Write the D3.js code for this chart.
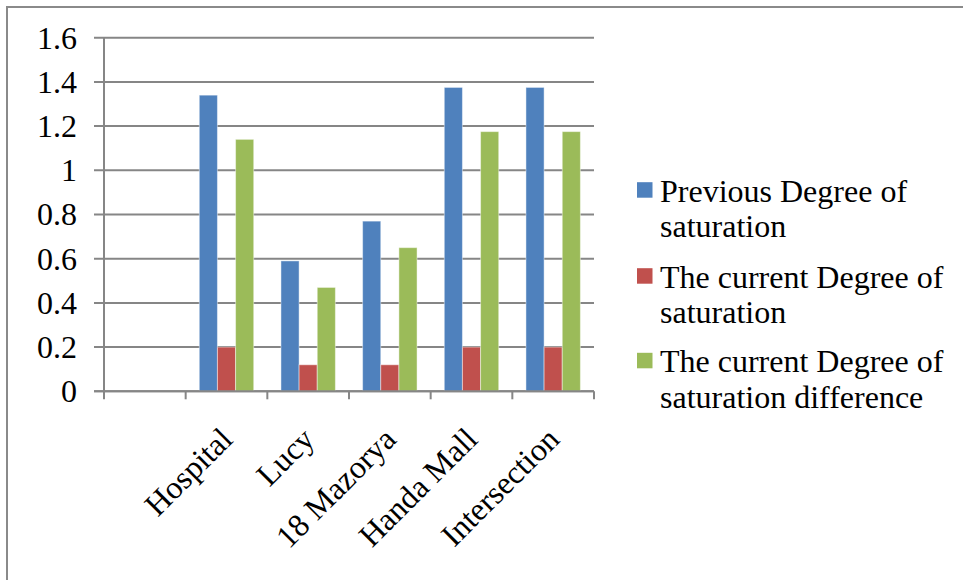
<!DOCTYPE html>
<html>
<head>
<meta charset="utf-8">
<script src="https://cdn.jsdelivr.net/npm/d3@7"></script>
<style>
  html, body { margin: 0; padding: 0; background: #fff; }
  svg { display: block; }
  text { font-family: "Liberation Serif", "Times New Roman", serif; }
</style>
</head>
<body>
<svg id="chart" width="963" height="580"></svg>
<script>
// Sites (the first slot is an empty category)
const categories = ["", "Hospital", "Lucy", "18 Mazorya", "Handa Mall", "Intersection"];
const seriesNames = [
  ["Previous Degree of", "saturation"],
  ["The current Degree of", "saturation"],
  ["The current Degree of", "saturation difference"]
];
const previousDegree   = [null, 1.34, 0.59, 0.77, 1.375, 1.375];
const currentDegree    = [null, 0.20, 0.12, 0.12, 0.20, 0.20];
const differenceDegree = [null, 1.14, 0.47, 0.65, 1.175, 1.175];
const yTicks = [0, 0.2, 0.4, 0.6, 0.8, 1, 1.2, 1.4, 1.6];
const colors = ["#4F81BD", "#C0504D", "#9BBB59"];

const series = [previousDegree, currentDegree, differenceDegree];
const FONT = 32;

const svg = d3.select("#chart");
const plot = { left: 104, right: 594, top: 37.7, bottom: 391.3 };

// Outer chart frame
svg.append("rect")
  .attr("x", 7).attr("y", 7)
  .attr("width", 1000).attr("height", 1000)
  .attr("fill", "none").attr("stroke", "#8a8a8a").attr("stroke-width", 2);

const x = d3.scaleBand().domain(categories.map((c, i) => i))
  .range([plot.left, plot.right]).paddingInner(0).paddingOuter(0);
const y = d3.scaleLinear().domain([0, 1.6]).range([plot.bottom, plot.top]);
const barW = x.bandwidth() / 4.5;
const inner = d3.scaleBand().domain([0, 1, 2]).range([0, barW * 3]);

// Gridlines with left tick marks
svg.append("g").selectAll("line").data(yTicks).join("line")
  .attr("x1", plot.left - 10).attr("x2", plot.right)
  .attr("y1", d => y(d)).attr("y2", d => y(d))
  .attr("stroke", "#868686").attr("stroke-width", 2);

// Y tick labels
svg.append("g").selectAll("text").data(yTicks).join("text")
  .attr("x", plot.left - 27).attr("y", d => y(d))
  .attr("dy", "0.34em")
  .attr("text-anchor", "end")
  .attr("font-size", FONT).attr("fill", "#000")
  .text(d => d3.format("")(d));

// Bars
const groups = svg.append("g").selectAll("g").data(series).join("g")
  .attr("fill", (d, i) => colors[i]);
groups.each(function(vals, si) {
  d3.select(this).selectAll("rect")
    .data(vals.map((v, ci) => ({ v, ci })).filter(d => d.v != null))
    .join("rect")
    .attr("x", d => x(d.ci) + (x.bandwidth() - barW * 3) / 2 + inner(si))
    .attr("width", barW)
    .attr("y", d => y(d.v))
    .attr("height", d => y(0) - y(d.v))
    .attr("stroke", "rgba(255,255,255,0.45)").attr("stroke-width", 1);
});

// Y axis line
svg.append("line")
  .attr("x1", plot.left).attr("x2", plot.left)
  .attr("y1", plot.top).attr("y2", plot.bottom)
  .attr("stroke", "#868686").attr("stroke-width", 2);

// X axis line and category ticks
svg.append("line")
  .attr("x1", plot.left - 10).attr("x2", plot.right)
  .attr("y1", plot.bottom).attr("y2", plot.bottom)
  .attr("stroke", "#868686").attr("stroke-width", 2);
const tickPos = categories.map((c, i) => x(i)).concat([plot.right]);
svg.append("g").selectAll("line").data(tickPos).join("line")
  .attr("x1", d => d).attr("x2", d => d)
  .attr("y1", plot.bottom).attr("y2", plot.bottom + 8)
  .attr("stroke", "#868686").attr("stroke-width", 2);

// Rotated category labels
svg.append("g").selectAll("text")
  .data(categories.map((c, i) => ({ c, i })).filter(d => d.c))
  .join("text")
  .attr("transform", d => `translate(${x(d.i) + x.bandwidth() / 2 - 8},${plot.bottom + 34}) rotate(-45)`)
  .attr("text-anchor", "end")
  .attr("dy", "0.7em")
  .attr("font-size", FONT).attr("fill", "#000")
  .text(d => d.c);

// Legend
const legend = svg.append("g").attr("transform", "translate(637,0)");
const entryBaseline = [201.7, 287.7, 372.3];
seriesNames.forEach((lines, i) => {
  legend.append("rect")
    .attr("x", 0).attr("y", entryBaseline[i] - 19.5)
    .attr("width", 15.5).attr("height", 15.5)
    .attr("fill", colors[i]);
  const t = legend.append("text")
    .attr("x", 23).attr("y", entryBaseline[i])
    .attr("font-size", FONT).attr("fill", "#000");
  lines.forEach((ln, k) => {
    t.append("tspan").attr("x", 23).attr("dy", k === 0 ? 0 : 35.5).text(ln);
  });
});
</script>
</body>
</html>
